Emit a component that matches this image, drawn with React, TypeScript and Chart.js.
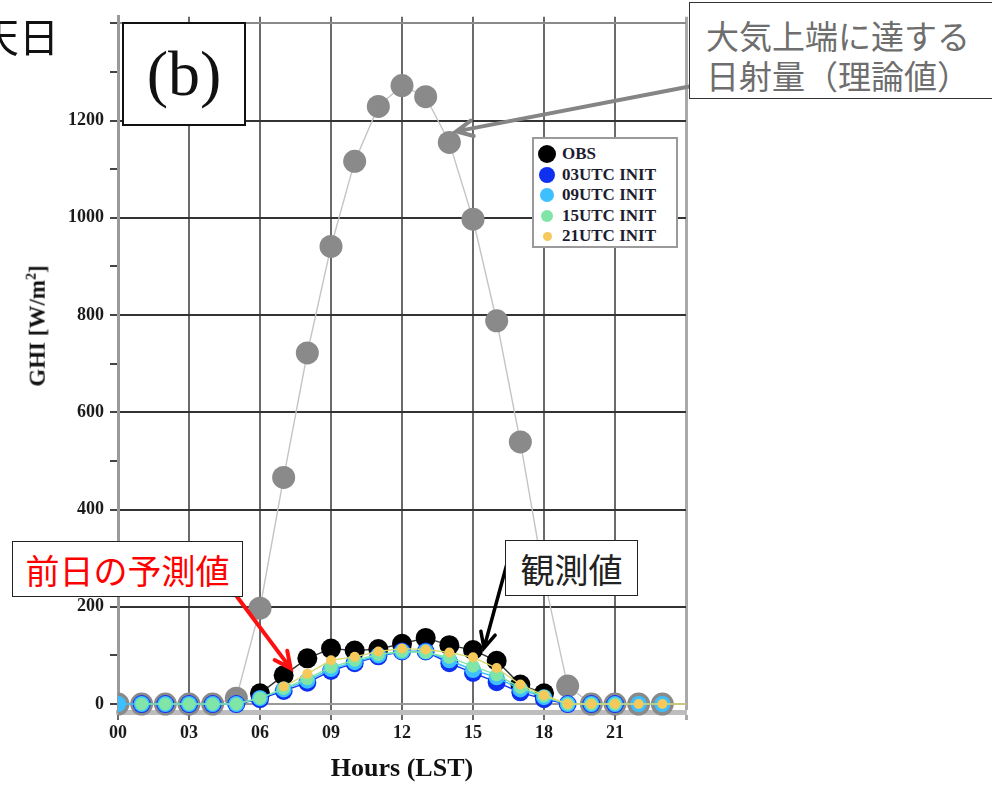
import React, { useEffect, useRef } from "react";
import { Chart, registerables } from "chart.js";

Chart.register(...registerables);

// ---- data ----
const hours = [0, 1, 2, 3, 4, 5, 6, 7, 8, 9, 10, 11, 12, 13, 14, 15, 16, 17, 18, 19, 20, 21, 22, 23, 24];
const xTickLabels = ["00", "03", "06", "09", "12", "15", "18", "21"];
const yTickLabels = ["0", "200", "400", "600", "800", "1000", "1200"];

const toaValues = [0, 0, 0, 0, 0, 12, 197, 466, 722, 941, 1116, 1229, 1272, 1249, 1155, 997, 788, 539, 260, 37, 0, 0, 0, 0, null];
const obsValues = [null, null, null, null, null, null, 22, 59, 94, 114, 110, 113, 124, 136, 121, 111, 89, 40, 22, null, null, null, null, null, null];
const utc03Values = [null, 0, 0, 0, 0, 0, 10, 27, 44, 68, 84, 98, 108, 108, 84, 64, 45, 24, 10, 0, 0, 0, null, null, null];
const utc09Values = [0, 0, 0, 0, 0, 0, 12, 30, 48, 72, 86, 100, 108, 108, 90, 70, 55, 30, 14, 0, 0, 0, 0, 0, null];
const utc15Values = [null, 0, 0, 0, 0, 0, 12, 32, 52, 76, 90, 102, 108, 106, 96, 78, 60, 34, 16, 0, 0, 0, null, null, null];
const utc21Values = [null, null, null, null, null, null, null, 36, 62, 90, 97, 108, 114, 112, 106, 96, 74, 40, 18, 0, 0, 0, 0, 0, 0];

const seriesNames = ["OBS", "03UTC INIT", "09UTC INIT", "15UTC INIT", "21UTC INIT"];
const seriesColors = ["#000000", "#1030f0", "#3cc0ff", "#80e6a8", "#f7c85a"];

const SERIF = '"Liberation Serif", "Times New Roman", serif';
const CJK = '"Noto Sans CJK JP", "Noto Sans", sans-serif';

function pts(vals: (number | null)[]) {
  return vals.map((v, i) => ({ x: hours[i], y: v }));
}

function drawArrow(ctx: CanvasRenderingContext2D, x0: number, y0: number, x1: number, y1: number, color: string, w: number, head: number) {
  const ang = Math.atan2(y1 - y0, x1 - x0);
  ctx.save();
  ctx.strokeStyle = color;
  ctx.lineWidth = w;
  ctx.lineCap = "round";
  ctx.beginPath();
  ctx.moveTo(x0, y0);
  ctx.lineTo(x1, y1);
  ctx.moveTo(x1 - head * Math.cos(ang - 0.45), y1 - head * Math.sin(ang - 0.45));
  ctx.lineTo(x1, y1);
  ctx.lineTo(x1 - head * Math.cos(ang + 0.45), y1 - head * Math.sin(ang + 0.45));
  ctx.stroke();
  ctx.restore();
}

const arrowPlugin = {
  id: "annotArrows",
  afterDatasetsDraw(chart: any) {
    const { ctx, scales } = chart;
    const xs = scales.x;
    const ys = scales.y;
    const gx = xs.getPixelForValue(14);
    const gy = ys.getPixelForValue(toaValues[14] as number);
    drawArrow(ctx, 692, 86, gx + 7, gy - 11, "#858585", 4, 18);
    const rx = xs.getPixelForValue(7);
    const ry = ys.getPixelForValue(obsValues[7] as number);
    drawArrow(ctx, 232, 590, rx + 7, ry - 7, "#ff1010", 4, 18);
    const bx = xs.getPixelForValue(15);
    const by = ys.getPixelForValue(obsValues[15] as number);
    drawArrow(ctx, 508, 560, bx + 11, by - 2, "#000000", 3.5, 17);
  },
};

export default function App() {
  const canvasRef = useRef<HTMLCanvasElement | null>(null);

  useEffect(() => {
    if (!canvasRef.current) return;
    const mk = (label: string, vals: (number | null)[], color: string, lineColor: string, r: number, order: number) => ({
      label,
      data: pts(vals),
      borderColor: lineColor,
      backgroundColor: color,
      pointBackgroundColor: color,
      pointBorderWidth: 0,
      pointRadius: (c: any) => (c.raw && c.raw.x === 24 ? 0 : r),
      borderWidth: 1.4,
      order,
      spanGaps: false,
      clip: { left: 0, top: false, right: false, bottom: false },
    });

    const chart = new Chart(canvasRef.current, {
      type: "line",
      data: {
        datasets: [
          mk("TOA", toaValues, "#8a8a8a", "#c4c4c4", 11.5, 6),
          mk(seriesNames[0], obsValues, seriesColors[0], "#333333", 10, 5),
          mk(seriesNames[1], utc03Values, seriesColors[1], seriesColors[1], 9, 4),
          mk(seriesNames[2], utc09Values, seriesColors[2], seriesColors[2], 8, 3),
          mk(seriesNames[3], utc15Values, seriesColors[3], seriesColors[3], 6.5, 2),
          mk(seriesNames[4], utc21Values, seriesColors[4], "#d8d870", 5, 1),
        ] as any,
      },
      options: {
        responsive: false,
        maintainAspectRatio: false,
        animation: false,
        layout: { padding: { left: 0, right: 306, top: 15, bottom: 0 } },
        plugins: { legend: { display: false }, tooltip: { enabled: false } },
        scales: {
          x: {
            type: "linear",
            min: 0,
            max: 24,
            afterFit: (s: any) => {
              s.height = 73;
            },
            ticks: {
              stepSize: 3,
              autoSkip: false,
              maxRotation: 0,
              padding: 3,
              color: "#1a1a1a",
              font: { family: SERIF, size: 18, weight: "bold" },
              callback: (v: any) => {
                const i = Math.round(Number(v) / 3);
                return i < xTickLabels.length ? xTickLabels[i] : "";
              },
            },
            grid: {
              color: (c: any) => (c.tick && c.tick.value === 24 ? "#aaaaaa" : "#6a6a6a"),
              lineWidth: (c: any) => (c.tick && c.tick.value === 24 ? 3 : 2),
              tickLength: 8,
            },
            border: { color: "#bdbdbd", width: 5 },
            title: {
              display: true,
              text: "Hours (LST)",
              color: "#111",
              font: { family: SERIF, size: 26, weight: "bold" },
              padding: { top: 0, bottom: 0 },
            },
          },
          y: {
            type: "linear",
            min: -16.41,
            max: 1413.3,
            afterFit: (s: any) => {
              s.width = 118;
            },
            ticks: {
              stepSize: 100,
              includeBounds: false,
              autoSkip: false,
              padding: 6,
              color: "#1a1a1a",
              font: { family: SERIF, size: 18, weight: "bold" },
              callback: (v: any) => {
                const n = Math.round(Number(v));
                if (n % 200 !== 0) return "";
                const i = n / 200;
                return i >= 0 && i < yTickLabels.length ? yTickLabels[i] : "";
              },
            },
            grid: {
              color: (c: any) => {
                const v = c.tick ? Math.round(c.tick.value) : -1;
                if (v === 0) return "#9a9a9a";
                if (v === 1400) return "#8a8a8a";
                return v % 200 === 0 ? "#333333" : "rgba(0,0,0,0)";
              },
              tickColor: "#444",
              lineWidth: 2,
              tickLength: 8,
            },
            border: { color: "#9a9a9a", width: 3 },
          },
        },
      },
      plugins: [arrowPlugin],
    });
    return () => chart.destroy();
  }, []);

  const legendRadii = [9, 8, 7, 6, 4.5];

  return (
    <div style={{ position: "fixed", left: 0, top: 0, width: 992, height: 785, overflow: "hidden", background: "#fff" }}>
      <canvas ref={canvasRef} width={992} height={785} style={{ display: "block", width: 992, height: 785 }} />

      <div style={{ position: "absolute", left: -21, top: 15, fontFamily: CJK, fontSize: 40, lineHeight: "40px", color: "#111", whiteSpace: "nowrap" }}>天日</div>

      <div
        style={{
          position: "absolute", left: 122, top: 22, width: 124, height: 104, boxSizing: "border-box",
          border: "2px solid #111", background: "#fff", display: "flex", alignItems: "center", justifyContent: "center",
          fontFamily: SERIF, fontSize: 64, lineHeight: 1, color: "#111",
        }}
      >
        (b)
      </div>

      <div
        style={{
          position: "absolute", left: 37, top: 326, transform: "translate(-50%, -50%) rotate(-90deg)",
          fontFamily: SERIF, fontWeight: "bold", fontSize: 23, color: "#111", whiteSpace: "nowrap",
        }}
      >
        GHI [W/m<sup style={{ fontSize: 14 }}>2</sup>]
      </div>

      <div
        style={{
          position: "absolute", left: 532, top: 137, width: 146, height: 111, boxSizing: "border-box",
          border: "2px solid #9a9a9a", background: "#fff", paddingTop: 5,
        }}
      >
        {seriesNames.map((n, i) => (
          <div key={n} style={{ position: "relative", height: 20.5 }}>
            <div
              style={{
                position: "absolute", left: 13 - legendRadii[i], top: 10 - legendRadii[i],
                width: legendRadii[i] * 2, height: legendRadii[i] * 2, borderRadius: "50%", background: seriesColors[i],
              }}
            />
            <div
              style={{
                position: "absolute", left: 28, top: 0, lineHeight: "20px", fontFamily: SERIF, fontWeight: "bold",
                fontSize: 17, color: "#1c1c30", whiteSpace: "nowrap",
              }}
            >
              {n}
            </div>
          </div>
        ))}
      </div>

      <div
        style={{
          position: "absolute", left: 689, top: 2, width: 330, height: 97, boxSizing: "border-box",
          border: "1.5px solid #333", background: "#fff", paddingLeft: 16, paddingTop: 12,
          fontFamily: CJK, fontSize: 33, lineHeight: "40px", color: "#6e6e6e", whiteSpace: "nowrap",
        }}
      >
        <div>大気上端に達する</div>
        <div>日射量（理論値）</div>
      </div>

      <div
        style={{
          position: "absolute", left: 12, top: 541, width: 231, height: 56, boxSizing: "border-box",
          border: "1.5px solid #222", background: "#fff", display: "flex", alignItems: "center", justifyContent: "center",
          fontFamily: CJK, fontSize: 34, color: "#ff0000", whiteSpace: "nowrap",
        }}
      >
        前日の予測値
      </div>

      <div
        style={{
          position: "absolute", left: 505, top: 540, width: 133, height: 56, boxSizing: "border-box",
          border: "1.5px solid #222", background: "#fff", display: "flex", alignItems: "center", justifyContent: "center",
          fontFamily: CJK, fontSize: 34, color: "#222", whiteSpace: "nowrap",
        }}
      >
        観測値
      </div>
    </div>
  );
}
